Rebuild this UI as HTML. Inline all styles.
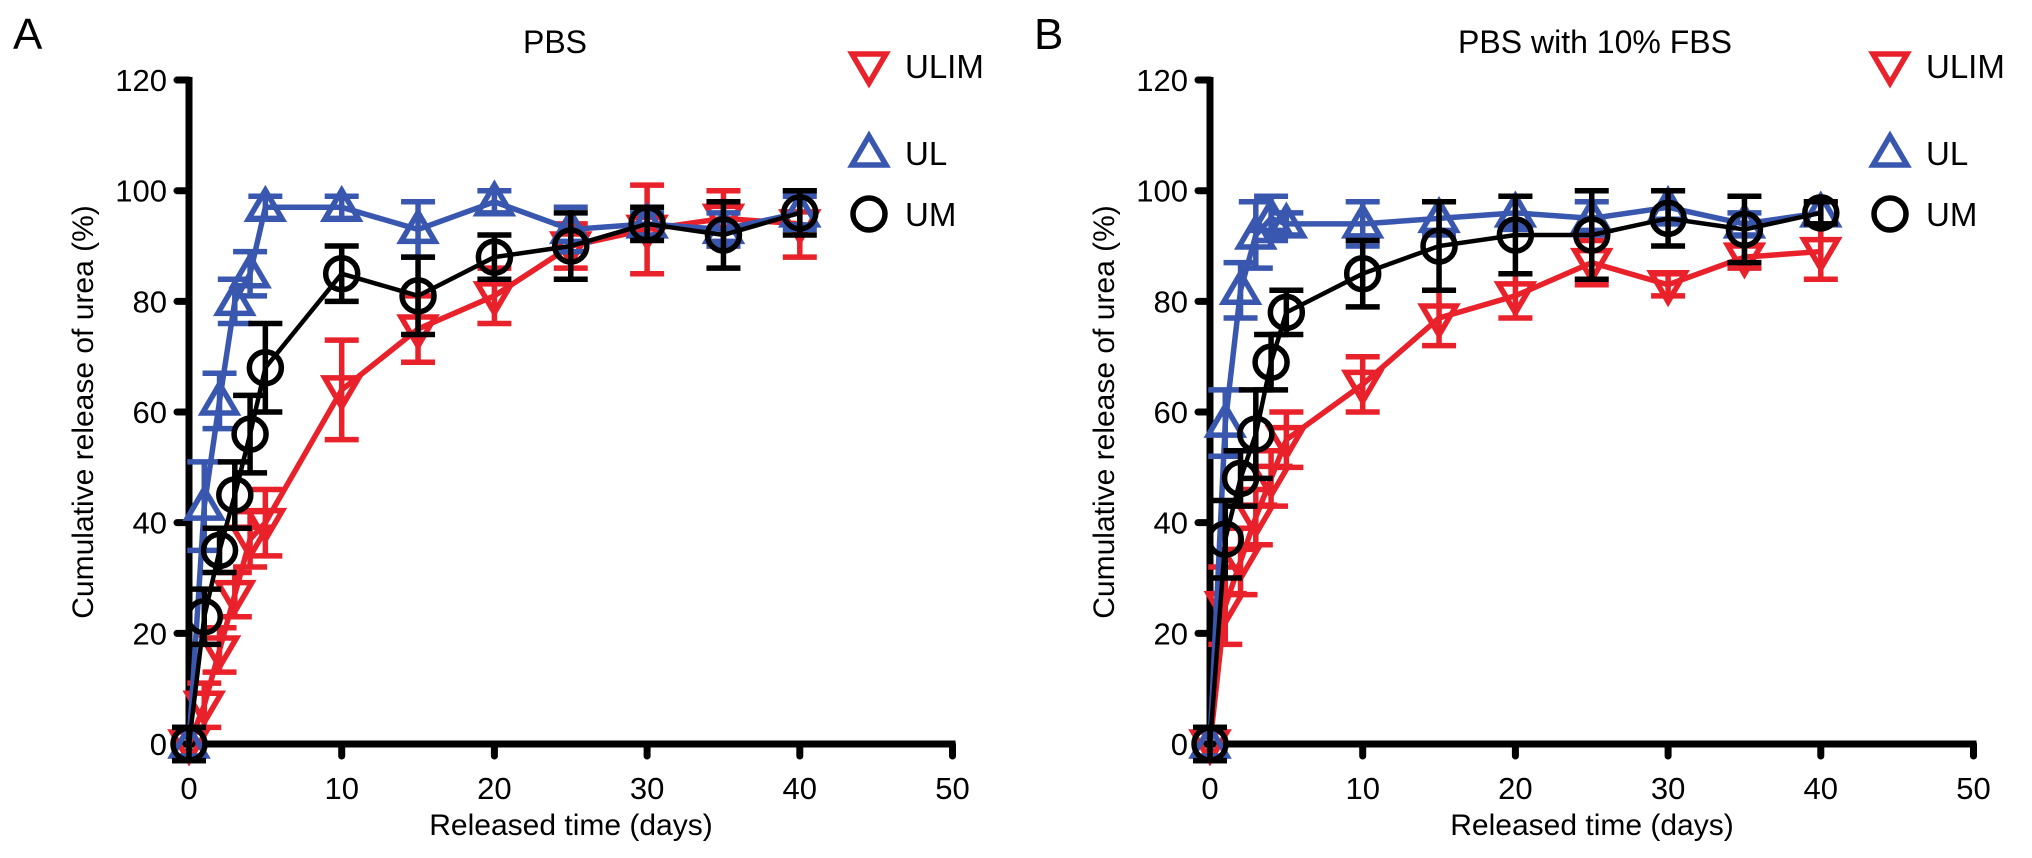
<!DOCTYPE html>
<html><head><meta charset="utf-8"><style>
html,body{margin:0;padding:0;background:#fff;}
svg{display:block;font-family:"Liberation Sans",Arial,sans-serif;}
</style></head><body>
<svg id="fig" width="2032" height="858" viewBox="0 0 2032 858" xmlns="http://www.w3.org/2000/svg"></svg>
<script>
const days = [0,1,2,3,4,5,10,15,20,25,30,35,40];
const xTicks = [0,10,20,30,40,50];
const yTicks = [0,20,40,60,80,100,120];
const seriesNames = ["ULIM","UL","UM"];
const pbsULIM = [0,7,17,27,37,40,64,75,81,90,93,95,94];
const pbsULIMerr = [3,4,4,4,5,6,9,6,5,4,8,5,6];
const pbsUL = [0,43,62,80,85,97,97,93,98,93,94,93,96];
const pbsULerr = [3,8,5,4,4,2,2,5,2,4,2,3,3];
const pbsUM = [0,23,35,45,56,68,85,81,88,90,94,92,96];
const pbsUMerr = [3,5,4,6,7,8,5,7,4,6,3,6,4];
const fbsULIM = [0,25,33,41,48,55,65,77,81,87,83,88,89];
const fbsULIMerr = [3,7,6,5,5,5,5,5,4,4,2,2,5];
const fbsUL = [0,58,82,92,95,94,94,95,96,95,97,94,96];
const fbsULerr = [3,6,5,6,4,2,4,3,3,3,3,2,2];
const fbsUM = [0,37,48,56,69,78,85,90,92,92,95,93,96];
const fbsUMerr = [3,7,5,8,5,4,6,8,7,8,5,6,2];

const NS="http://www.w3.org/2000/svg";
const svg=document.getElementById('fig');
const colors={ULIM:"#e8212a",UL:"#3a57b0",UM:"#000"};
function mk(tag,attrs,parent){const e=document.createElementNS(NS,tag);for(const k in attrs)e.setAttribute(k,attrs[k]);(parent||svg).appendChild(e);return e;}

function marker(g,kind,cx,cy,color){
  let e;
  if(kind==="UM"){e=mk('circle',{cx:cx,cy:cy,r:16,fill:'none',stroke:color,'stroke-width':5.5},g);}
  else if(kind==="ULIM"){e=mk('polygon',{points:`${cx-17},${cy-12} ${cx+17},${cy-12} ${cx},${cy+17}`,fill:'none',stroke:color,'stroke-width':5.5,'stroke-linejoin':'miter'},g);}
  else {e=mk('polygon',{points:`${cx-17},${cy+12} ${cx+17},${cy+12} ${cx},${cy-17}`,fill:'none',stroke:color,'stroke-width':5.5,'stroke-linejoin':'miter'},g);}
  return e;
}

function panel(ox, letter, title, data){
  const x0=ox, xs=15.27, y0=744, ys=5.533;
  const X=v=>x0+v*xs, Y=v=>y0-v*ys;
  const g=mk('g',{});
  
  
  let t=mk('text',{x:ox-176,y:49,'font-size':44,fill:'#000'},g);t.textContent=letter;
  
  t=mk('text',{x:ox+(letter==='A'?366:385),y:53,'font-size':32,'text-anchor':'middle',fill:'#000'},g);t.textContent=title;
  
  let a=mk('line',{x1:X(0),y1:Y(0),x2:X(0),y2:Y(120)-3,stroke:'#000','stroke-width':7},g);
  
  a=mk('line',{x1:X(0)-3,y1:Y(0),x2:X(50)+3,y2:Y(0),stroke:'#000','stroke-width':7},g);
  
  yTicks.forEach(v=>{
    const l=mk('line',{x1:X(0)-12,y1:Y(v),x2:X(0),y2:Y(v),stroke:'#000','stroke-width':7,'stroke-linecap':'round'},g);
    
    const tt=mk('text',{x:X(0)-22,y:Y(v)+11,'font-size':31,'text-anchor':'end',fill:'#000'},g);tt.textContent=v;
    
  });
  xTicks.forEach(v=>{
    const l=mk('line',{x1:X(v),y1:Y(0),x2:X(v),y2:Y(0)+12,stroke:'#000','stroke-width':7,'stroke-linecap':'round'},g);
    
    const tt=mk('text',{x:X(v),y:Y(0)+55,'font-size':31,'text-anchor':'middle',fill:'#000'},g);tt.textContent=v;
    
  });
  t=mk('text',{x:X(0)+382,y:835,'font-size':30,'text-anchor':'middle',fill:'#000'},g);t.textContent='Released time (days)';
  
  t=mk('text',{x:0,y:0,'font-size':30,'text-anchor':'middle',fill:'#000',transform:`translate(${ox-96},412) rotate(-90)`},g);t.textContent='Cumulative release of urea (%)';
  
  ["ULIM","UL","UM"].forEach(name=>{
    const vals=data[name][0], errs=data[name][1], c=colors[name];
    const sg=mk('g',{},g);
    
    
    const p=mk('polyline',{points:days.map((d,i)=>X(d)+','+Y(vals[i])).join(' '),fill:'none',stroke:c,'stroke-width':name==='UM'?4.5:5.5},sg);
    
    days.forEach((d,i)=>{
      const cx=X(d),top=Y(vals[i]+errs[i]),bot=Y(vals[i]-errs[i]);
      const eb=mk('path',{d:`M${cx},${top}V${bot}M${cx-17},${top}H${cx+17}M${cx-17},${bot}H${cx+17}`,stroke:c,'stroke-width':5.5,fill:'none'},sg);
      
      const m=marker(sg,name,cx,Y(vals[i]),c);
      
    });
  });
  const lx=ox+680, ly=[66,153,214];
  seriesNames.forEach((n,i)=>{
    const lg=mk('g',{},g);
    
    const m=marker(lg,n,lx,ly[i],colors[n]);
    
    const lt=mk('text',{x:lx+36,y:ly[i]+12,'font-size':33,fill:'#000'},lg);lt.textContent=n;
    
  });
}
panel(189,'A','PBS',{ULIM:[pbsULIM,pbsULIMerr],UL:[pbsUL,pbsULerr],UM:[pbsUM,pbsUMerr]});
panel(1210,'B','PBS with 10% FBS',{ULIM:[fbsULIM,fbsULIMerr],UL:[fbsUL,fbsULerr],UM:[fbsUM,fbsUMerr]});
</script>
</body></html>
